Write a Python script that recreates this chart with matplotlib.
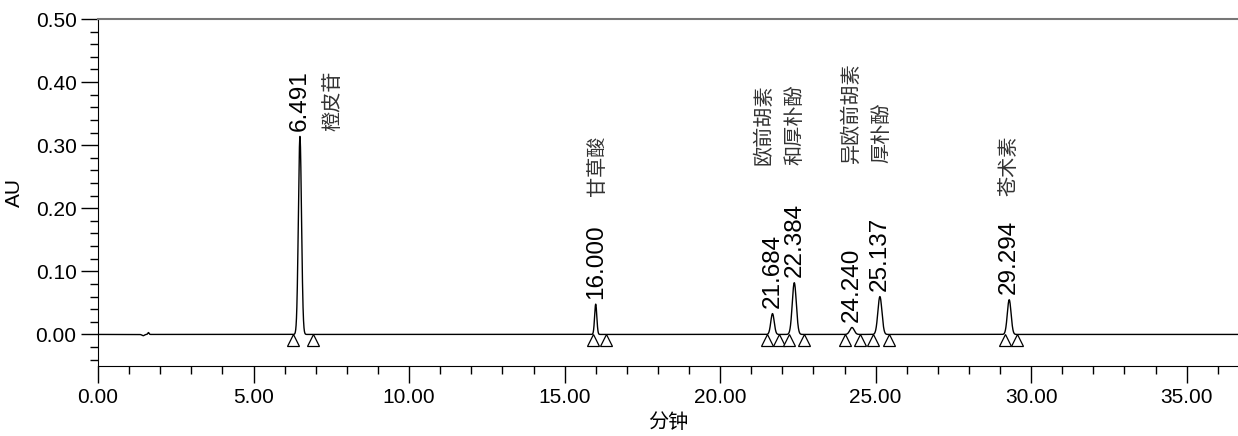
import numpy as np
import matplotlib.pyplot as plt
from matplotlib.ticker import MultipleLocator, FormatStrFormatter

# peak table: retention time (min), height (AU), width sigma (min)
rt = [6.491, 16.000, 21.684, 22.384, 24.240, 25.137, 29.294]
height = [0.314, 0.048, 0.033, 0.082, 0.011, 0.060, 0.055]
sigma = [0.050, 0.035, 0.055, 0.065, 0.070, 0.065, 0.060]

# small baseline disturbance near the solvent front
noise_t = [1.45, 1.62]
noise_h = [-0.002, 0.003]
noise_s = [0.04, 0.02]

# integration start/end marks
marks = [6.27, 6.90, 15.90, 16.32, 21.50, 21.90, 22.20, 22.70,
         24.00, 24.50, 24.90, 25.42, 29.16, 29.55]

names = ["橙皮苷", "甘草酸", "欧前胡素\n和厚朴酚", "异欧前胡素\n厚朴酚", "苍术素"]
name_pos = [(7.55, 0.322), (16.05, 0.219), (21.9, 0.268), (24.72, 0.272), (29.27, 0.219)]

t = np.linspace(0, 36.8, 12000)
au = np.zeros_like(t)
for c, h, s in zip(rt + noise_t, height + noise_h, sigma + noise_s):
    au += h * np.exp(-0.5 * ((t - c) / s) ** 2)

plt.rcParams['font.family'] = ['Liberation Sans', 'Noto Sans CJK SC', 'DejaVu Sans']

fig = plt.figure(figsize=(12.38, 4.36), dpi=100)
ax = fig.add_axes([0.0792, 0.1606, 0.9208, 0.7958])

ax.plot(t, au, color='black', lw=1.0)
ax.plot(marks, [-0.0085] * len(marks), ls='none', marker='^', ms=8,
        mfc='white', mec='black', mew=0.9)

for c, h in zip(rt, height):
    ax.annotate(f"{c:.3f}", (c, h), xytext=(0, 4), textcoords='offset points',
                rotation=90, ha='center', va='bottom', fontsize=17.5)

for name, (x, y) in zip(names, name_pos):
    ax.text(x, y, name, rotation=90, ha='center', va='bottom', fontsize=14.5,
            family=['Noto Sans CJK SC', 'DejaVu Sans'], color='#333333',
            multialignment='left', linespacing=1.6)

ax.set_xlim(0, 36.65)
ax.set_ylim(-0.05, 0.5)
ax.xaxis.set_major_locator(MultipleLocator(5))
ax.xaxis.set_minor_locator(MultipleLocator(1))
ax.yaxis.set_major_locator(MultipleLocator(0.1))
ax.yaxis.set_minor_locator(MultipleLocator(0.02))
ax.xaxis.set_major_formatter(FormatStrFormatter('%.2f'))
ax.yaxis.set_major_formatter(FormatStrFormatter('%.2f'))
ax.tick_params(which='major', direction='out', length=12, width=1, labelsize=15)
ax.tick_params(which='minor', direction='out', length=6, width=1)

ax.spines['right'].set_visible(False)
ax.spines['top'].set_color('#777777')
ax.spines['top'].set_linewidth(1.5)

ax.set_xlabel("分钟", fontsize=14.5, family=['Noto Sans CJK SC', 'DejaVu Sans'], labelpad=4)
ax.set_ylabel("AU", fontsize=15, labelpad=8)

fig.savefig("out.png", dpi=100)
